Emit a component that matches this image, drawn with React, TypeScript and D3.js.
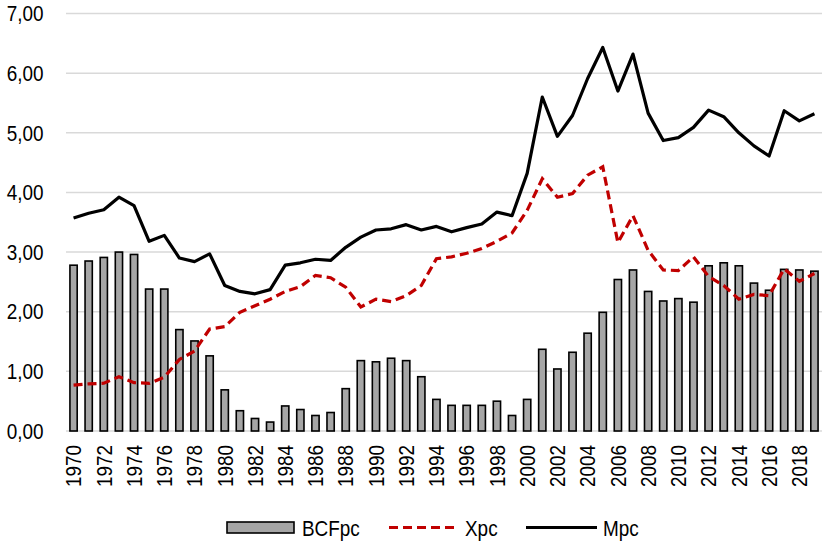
import React from 'react';
import * as d3 from 'd3';

const years = d3.range(1970, 2020).map(String);

const bcfpc = [
  2.78, 2.85, 2.91, 3.0, 2.96, 2.38, 2.38, 1.7, 1.51, 1.26,
  0.69, 0.34, 0.21, 0.15, 0.42, 0.36, 0.26, 0.31, 0.71, 1.18,
  1.16, 1.22, 1.18, 0.91, 0.53, 0.43, 0.43, 0.43, 0.5, 0.26,
  0.53, 1.37, 1.04, 1.32, 1.64, 1.99, 2.54, 2.7, 2.34, 2.18,
  2.22, 2.16, 2.77, 2.82, 2.77, 2.48, 2.36, 2.71, 2.7, 2.68,
];

const xpc = [
  0.77, 0.79, 0.8, 0.91, 0.81, 0.8, 0.9, 1.2, 1.34, 1.71,
  1.75, 1.99, 2.1, 2.21, 2.34, 2.42, 2.61, 2.57, 2.41, 2.08,
  2.21, 2.17, 2.27, 2.44, 2.89, 2.92, 2.98, 3.06, 3.18, 3.32,
  3.7, 4.23, 3.92, 3.98, 4.29, 4.43, 3.16, 3.61, 3.03, 2.7,
  2.69, 2.92, 2.59, 2.44, 2.21, 2.29, 2.27, 2.72, 2.51, 2.64,
];

const mpc = [
  3.57, 3.65, 3.71, 3.92, 3.78, 3.18, 3.28, 2.9, 2.84, 2.97,
  2.44, 2.34, 2.3, 2.37, 2.78, 2.82, 2.88, 2.86, 3.08, 3.25,
  3.37, 3.39, 3.46, 3.37, 3.43, 3.34, 3.41, 3.47, 3.67, 3.61,
  4.32, 5.6, 4.94, 5.29, 5.91, 6.43, 5.7, 6.32, 5.33, 4.87,
  4.92, 5.09, 5.38, 5.27, 5.0, 4.78, 4.61, 5.37, 5.2, 5.32,
];

const yTicks = [0, 1, 2, 3, 4, 5, 6, 7];

const WIDTH = 832;
const HEIGHT = 543;
const FONT = '"Liberation Sans", Arial, sans-serif';
const FS = 21.5;
const SQ = 'scale(0.88,1)'; // the original labels use a slightly condensed face

const App: React.FC = () => {
  const x = d3.scaleBand<string>().domain(years).range([66, 822]).paddingInner(0).paddingOuter(0);
  const y = d3.scaleLinear().domain([0, 7]).range([431, 13.5]);
  const fmt = (v: number) => d3.format('.2f')(v).replace('.', ',');
  const bw = x.bandwidth() * 0.48;
  const cx = (i: number) => (x(years[i]) as number) + x.bandwidth() / 2;

  const line = d3
    .line<number>()
    .x((_, i) => cx(i))
    .y((d) => y(d));

  return (
    <svg
      width={WIDTH}
      height={HEIGHT}
      style={{ position: 'absolute', left: 0, top: 0, background: '#fff' }}
      fontFamily={FONT}
    >
      {/* grid */}
      <g>
        {yTicks.map((t) => (
          <g key={t}>
            <line x1={66} x2={822} y1={y(t)} y2={y(t)} stroke="#d9d9d9" strokeWidth={1.5} />
            <text
              transform={`translate(43.5,${y(t)}) ${SQ}`}
              dy="0.36em"
              textAnchor="end"
              fontSize={FS}
              fill="#000"
            >
              {fmt(t)}
            </text>
          </g>
        ))}
      </g>

      {/* bars */}
      <g>
        {bcfpc.map((v, i) => (
          <rect
            key={i}
            x={cx(i) - bw / 2}
            y={y(v)}
            width={bw}
            height={y(0) - y(v)}
            fill="#a6a6a6"
            stroke="#000"
            strokeWidth={1.6}
          />
        ))}
      </g>

      <path d={line(xpc) || ''} fill="none" stroke="#c00000" strokeWidth={3.2} strokeDasharray="9,5" />
      <path d={line(mpc) || ''} fill="none" stroke="#000" strokeWidth={3.2} strokeLinejoin="round" />

      {/* x labels */}
      <g>
        {years.map((yr, i) =>
          i % 2 === 0 ? (
            <text
              key={yr}
              transform={`translate(${cx(i)},445) rotate(-90) ${SQ}`}
              dy="0.36em"
              textAnchor="end"
              fontSize={FS}
              fill="#000"
            >
              {yr}
            </text>
          ) : null
        )}
      </g>

      {/* legend */}
      <g fontSize={FS}>
        <rect x={227} y={522} width={67} height={11} fill="#a6a6a6" stroke="#000" strokeWidth={1.6} />
        <text transform={`translate(302,535.5) ${SQ}`}>BCFpc</text>
        <line x1={389} x2={459} y1={527.5} y2={527.5} stroke="#c00000" strokeWidth={3.2} strokeDasharray="9,5" />
        <text transform={`translate(465,535.5) ${SQ}`}>Xpc</text>
        <line x1={526} x2={597} y1={527.5} y2={527.5} stroke="#000" strokeWidth={3.2} />
        <text transform={`translate(603,535.5) ${SQ}`}>Mpc</text>
      </g>
    </svg>
  );
};

export default App;
